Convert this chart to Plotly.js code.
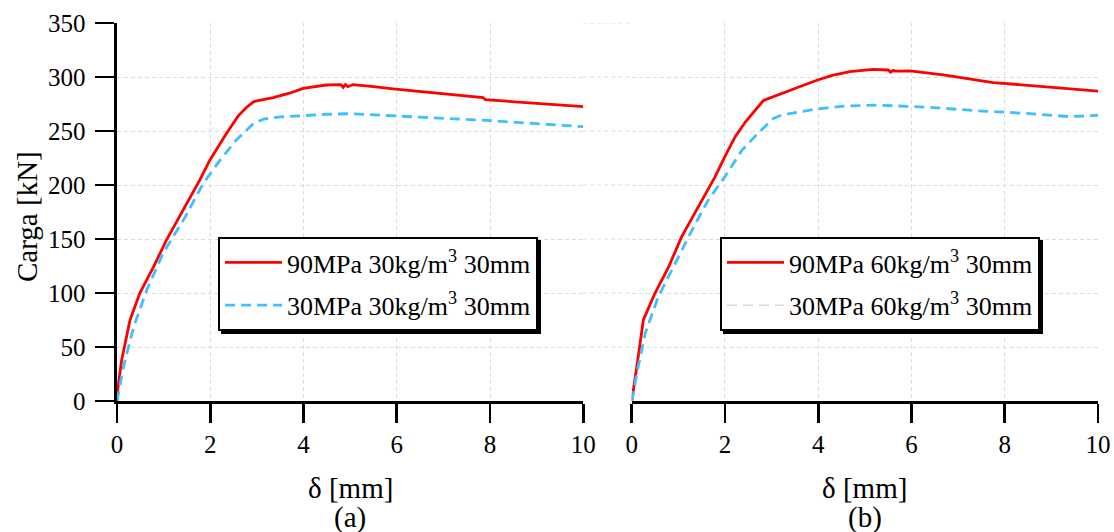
<!DOCTYPE html>
<html>
<head>
<meta charset="utf-8">
<script src="https://cdn.plot.ly/plotly-3.0.1.min.js"></script>
<style>
  html, body { margin: 0; padding: 0; background: #fff; }
  #chart { width: 1114px; height: 532px; }
  /* solid drop shadow under the legend boxes */
  #chart .infolayer rect.bg { filter: drop-shadow(3px 3px 0 #000); }
</style>
</head>
<body>
<div id="chart"></div>
<script>
// Load–displacement curves for fibre-reinforced specimens

const xTicks = [0, 2, 4, 6, 8, 10];
const yTicks = [0, 50, 100, 150, 200, 250, 300, 350];

const panelLabels = ['(a)', '(b)'];
const xTitle = 'δ [mm]';
const yTitle = 'Carga [kN]';

const legendLeft = ['90MPa 30kg/m<sup>3</sup> 30mm', '30MPa 30kg/m<sup>3</sup> 30mm'];
const legendRight = ['90MPa 60kg/m<sup>3</sup> 30mm', '30MPa 60kg/m<sup>3</sup> 30mm'];

// (a) 30 kg/m3
const aRedX = [0, 0.02, 0.1, 0.28, 0.49, 0.78, 1.06, 1.42, 1.78, 1.99, 2.35, 2.6, 2.78, 2.93, 3.0, 3.35, 3.7, 3.99, 4.3, 4.49, 4.8, 4.85, 4.9, 4.95, 5.06, 5.2, 5.5, 5.92, 6.3, 6.78, 7.3, 7.85, 7.9, 8.4, 8.92, 9.5, 10];
const aRedY = [0, 12, 38, 75, 100, 124, 149, 177, 205, 223, 248, 264, 272, 277, 278, 281, 285, 289.5, 291.5, 292.6, 293, 290.5, 293, 291, 293, 292.5, 291, 289, 287.5, 285.5, 283.5, 281, 279, 277.5, 275.6, 274, 272.5];
const aBlueX = [0, 0.05, 0.14, 0.36, 0.64, 0.99, 1.43, 1.85, 2.21, 2.56, 2.8, 2.93, 3.14, 3.5, 3.92, 4.5, 4.99, 5.5, 6.06, 7.0, 7.85, 8.92, 10];
const aBlueY = [0, 12, 32, 69, 103, 137, 168, 201.5, 223, 241.7, 252, 257, 261, 263, 264, 265.5, 266, 265, 264, 262, 260, 257, 254];

// (b) 60 kg/m3
const bRedX = [0, 0.03, 0.11, 0.25, 0.5, 0.79, 1.07, 1.43, 1.79, 2.0, 2.22, 2.44, 2.64, 2.82, 2.9, 3.25, 3.6, 3.97, 4.3, 4.68, 5.0, 5.18, 5.5, 5.55, 5.6, 5.7, 5.97, 6.3, 6.68, 7.2, 7.75, 8.3, 8.83, 9.4, 10];
const bRedY = [0, 10, 32, 75, 100, 124, 152, 180, 207.7, 226.5, 244.7, 258.5, 269, 278, 279.5, 284.9, 291, 297, 301.5, 305, 306.5, 307, 306.5, 304.5, 306, 305.5, 305.6, 304, 302, 298.5, 294.7, 293, 291, 289.5, 287];
const bBlueX = [0, 0.04, 0.11, 0.29, 0.57, 0.93, 1.29, 1.64, 2.0, 2.36, 2.71, 2.93, 3.04, 3.22, 3.5, 3.82, 4.2, 4.54, 5.25, 5.8, 6.4, 7.4, 8.47, 9.4, 10];
const bBlueY = [0, 8, 25.6, 62.7, 96.6, 127.5, 158, 186, 207.7, 232, 248, 257, 261.7, 264.8, 267, 269.4, 271.5, 273, 274, 273, 271.9, 268.8, 266.3, 263.3, 264.5];

const W = 1114, H = 532;
const px = v => v / W;
const py = v => 1 - v / H;

const FONT = 'Liberation Serif, DejaVu Serif, serif';
const RED = '#ff0000';
const BLUE = 'rgb(64,191,255)';
const GRID = '#dcdcdc';
const GRID_DASH = '4px,3px';

const redLine = { color: RED, width: 2.8 };
const blueLine = { color: BLUE, width: 2.8, dash: '10px,6px' };

const traces = [
  { x: aRedX, y: aRedY, type: 'scatter', mode: 'lines', name: legendLeft[0], line: redLine,
    xaxis: 'x', yaxis: 'y', legend: 'legend', legendgroup: 'a1' },
  { x: aBlueX, y: aBlueY, type: 'scatter', mode: 'lines', name: legendLeft[1], line: blueLine,
    xaxis: 'x', yaxis: 'y', legend: 'legend', legendgroup: 'a2' },
  { x: bRedX, y: bRedY, type: 'scatter', mode: 'lines', name: legendRight[0], line: redLine,
    xaxis: 'x2', yaxis: 'y2', legend: 'legend2', legendgroup: 'b1' },
  { x: bBlueX, y: bBlueY, type: 'scatter', mode: 'lines', name: legendRight[1], line: blueLine,
    xaxis: 'x2', yaxis: 'y2', showlegend: false },
  // legend key for the second series of panel (b), drawn in pale grey
  { x: [null], y: [null], type: 'scatter', mode: 'lines', name: legendRight[1],
    line: { color: '#d8d8d8', width: 1.5, dash: '10px,6px' },
    xaxis: 'x2', yaxis: 'y2', legend: 'legend2', legendgroup: 'b2' }
];

const gridStyle = { showgrid: true, gridcolor: GRID, gridwidth: 1, griddash: GRID_DASH, zeroline: false };

const xAxisBase = Object.assign({
  range: [0, 10], tickvals: xTicks, ticktext: xTicks.map(String),
  ticks: 'outside', ticklen: 19, tickwidth: 2.6, tickcolor: '#000',
  showline: true, linewidth: 2.6, linecolor: '#000',
  tickfont: { size: 25, family: FONT, color: '#000' },
  fixedrange: true
}, gridStyle);

const yDomain = [py(401), py(23)];

const legendBase = {
  xanchor: 'left', yanchor: 'top', y: py(237),
  bgcolor: '#fff', bordercolor: '#000', borderwidth: 2,
  font: { family: FONT, size: 26, color: '#000' },
  itemwidth: 57, tracegroupgap: 6, traceorder: 'grouped'
};

const gapGrid = yTicks.filter(v => v > 0).map(v => ({
  type: 'line', xref: 'paper', yref: 'y', x0: px(583.3), x1: px(631.7), y0: v, y1: v,
  line: { color: GRID, width: 1, dash: GRID_DASH }, layer: 'below'
}));

const annotations = [];
[[117, 583.3], [631.7, 1098]].forEach((d, i) => {
  const cx = px((d[0] + d[1]) / 2);
  annotations.push({ text: xTitle, xref: 'paper', yref: 'paper', x: cx, y: py(488),
    xanchor: 'center', yanchor: 'middle', showarrow: false, font: { size: 29, family: FONT } });
  annotations.push({ text: panelLabels[i], xref: 'paper', yref: 'paper', x: cx, y: py(517),
    xanchor: 'center', yanchor: 'middle', showarrow: false, font: { size: 29, family: FONT } });
});
annotations.push({ text: yTitle, xref: 'paper', yref: 'paper', x: px(27), y: py(217),
  xanchor: 'center', yanchor: 'middle', textangle: -90, showarrow: false, font: { size: 29, family: FONT } });

const layout = {
  width: W, height: H,
  margin: { l: 0, r: 0, t: 0, b: 0 },
  paper_bgcolor: '#fff', plot_bgcolor: '#fff',
  font: { family: FONT, size: 25, color: '#000' },
  showlegend: true,
  xaxis: Object.assign({}, xAxisBase, { domain: [px(117), px(583.3)], anchor: 'y' }),
  xaxis2: Object.assign({}, xAxisBase, { domain: [px(631.7), px(1098)], anchor: 'y2' }),
  yaxis: Object.assign({
    domain: yDomain, range: [0, 350], tickvals: yTicks, ticktext: yTicks.map(String),
    ticks: 'outside', ticklen: 19, tickwidth: 2.6, tickcolor: '#000',
    showline: true, linewidth: 2.6, linecolor: '#000', ticklabelstandoff: 5,
    tickfont: { size: 25, family: FONT, color: '#000' }, anchor: 'x', fixedrange: true
  }, gridStyle),
  yaxis2: Object.assign({
    domain: yDomain, range: [0, 350], tickvals: yTicks,
    showticklabels: false, ticks: '', showline: false, anchor: 'x2', fixedrange: true
  }, gridStyle),
  legend: Object.assign({}, legendBase, { x: px(218) }),
  legend2: Object.assign({}, legendBase, { x: px(720) }),
  shapes: gapGrid,
  annotations: annotations
};

Plotly.newPlot('chart', traces, layout, { displayModeBar: false, staticPlot: true });
</script>
</body>
</html>
